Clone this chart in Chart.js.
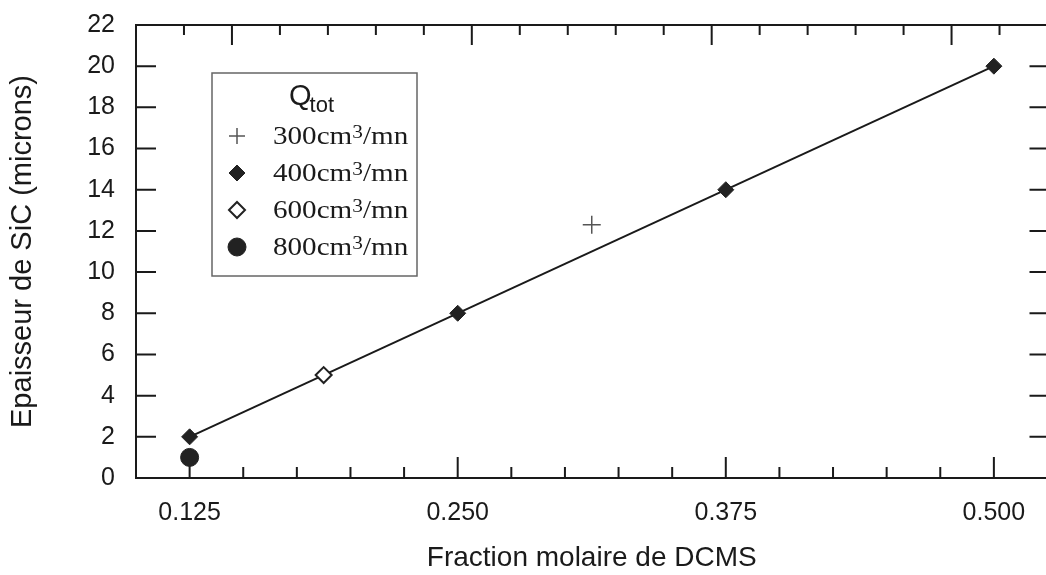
<!DOCTYPE html>
<html><head><meta charset="utf-8">
<script src="https://cdn.jsdelivr.net/npm/chart.js"></script>
<style>
html,body{margin:0;padding:0;background:#fff;overflow:hidden;}
#wrap{position:relative;width:1058px;height:575px;}
canvas{display:block;}
</style></head><body>
<div id="wrap"><canvas id="c" width="1058" height="575" style="width:1058px;height:575px"></canvas></div>
<script>
// ---- data ----
const flowRates = ['300', '400', '600', '800'];       // legend entries: "<rate>cm³/mn"
const x300 = [0.3125];               const y300 = [12.3];
const x400 = [0.125, 0.25, 0.375, 0.5]; const y400 = [2, 8, 14, 20];
const x600 = [0.1875];               const y600 = [5];
const x800 = [0.125];                const y800 = [1];
const fitX = [0.125, 0.5];           const fitY = [2, 20];
const xTickValues = [0.125, 0.25, 0.375, 0.5];
const xMinorTicks = [0.15, 0.175, 0.2, 0.225, 0.275, 0.3, 0.325, 0.35, 0.4, 0.425, 0.45, 0.475];
const yTickValues = [0, 2, 4, 6, 8, 10, 12, 14, 16, 18, 20, 22];
const topMajorTicks = [0, 5, 10, 15];
const topMinorTicks = [-1, 1, 2, 3, 4, 6, 7, 8, 9, 11, 12, 13, 14, 16];
const xTitle = 'Fraction molaire de DCMS';
const yTitle = 'Epaisseur de SiC (microns)';

const pts = (xs, ys) => xs.map((x, i) => ({x: x, y: ys[i]}));
const INK = '#1a1a1a';

function drawMarker(ctx, style, x, y, r, fill, stroke, bw) {
  ctx.save();
  ctx.beginPath();
  if (style === 'cross') {
    ctx.moveTo(x - r, y); ctx.lineTo(x + r, y);
    ctx.moveTo(x, y - r); ctx.lineTo(x, y + r);
    ctx.strokeStyle = stroke; ctx.lineWidth = bw; ctx.stroke();
  } else {
    if (style === 'rectRot') {
      ctx.moveTo(x - r, y); ctx.lineTo(x, y - r); ctx.lineTo(x + r, y); ctx.lineTo(x, y + r); ctx.closePath();
    } else {
      ctx.arc(x, y, r, 0, Math.PI * 2);
    }
    ctx.fillStyle = fill; ctx.fill();
    if (bw > 0) { ctx.strokeStyle = stroke; ctx.lineWidth = bw; ctx.stroke(); }
  }
  ctx.restore();
}

const framePlugin = {
  id: 'frame',
  beforeDatasetsDraw(chart) {
    const ctx = chart.ctx, ca = chart.chartArea;
    const xs = chart.scales.x, ys = chart.scales.y, xt = chart.scales.x2;
    ctx.save();
    ctx.strokeStyle = INK; ctx.lineWidth = 2; ctx.lineCap = 'butt';
    ctx.beginPath();
    ctx.moveTo(ca.left, ca.top); ctx.lineTo(ca.right + 12, ca.top);
    ctx.moveTo(ca.left, ca.top - 1); ctx.lineTo(ca.left, ca.bottom + 1);
    ctx.moveTo(ca.left, ca.bottom); ctx.lineTo(ca.right + 12, ca.bottom);
    ctx.stroke();
    ctx.beginPath();
    yTickValues.forEach(v => {
      const py = ys.getPixelForValue(v);
      ctx.moveTo(ca.left, py); ctx.lineTo(ca.left + 20, py);
      ctx.moveTo(ca.right - 18, py); ctx.lineTo(ca.right + 2, py);
    });
    xTickValues.forEach(v => {
      const px = xs.getPixelForValue(v);
      ctx.moveTo(px, ca.bottom); ctx.lineTo(px, ca.bottom - 21);
    });
    xMinorTicks.forEach(v => {
      const px = xs.getPixelForValue(v);
      ctx.moveTo(px, ca.bottom); ctx.lineTo(px, ca.bottom - 11);
    });
    topMajorTicks.forEach(v => {
      const px = xt.getPixelForValue(v);
      ctx.moveTo(px, ca.top); ctx.lineTo(px, ca.top + 20);
    });
    topMinorTicks.forEach(v => {
      const px = xt.getPixelForValue(v);
      ctx.moveTo(px, ca.top); ctx.lineTo(px, ca.top + 10);
    });
    ctx.stroke();
    ctx.restore();
  }
};

const legendPlugin = {
  id: 'boxLegend',
  afterDraw(chart) {
    const ctx = chart.ctx;
    const bx = 212, by = 73, bw = 205, bh = 203;
    ctx.save();
    ctx.fillStyle = '#fff';
    ctx.fillRect(bx, by, bw, bh);
    ctx.strokeStyle = '#666'; ctx.lineWidth = 1.5;
    ctx.strokeRect(bx, by, bw, bh);
    // title Q_tot
    ctx.fillStyle = INK;
    ctx.textBaseline = 'alphabetic';
    ctx.textAlign = 'left';
    ctx.font = '29px "Liberation Sans", Arial, sans-serif';
    ctx.fillText('Q', 289, 105);
    const qw = ctx.measureText('Q').width;
    ctx.font = '22px "Liberation Sans", Arial, sans-serif';
    ctx.fillText('tot', 289 + qw - 2, 112);
    // entries
    const rows = [136, 173, 210, 247];
    const ds = chart.data.datasets.slice(0, 4);
    const SX = 1.12;
    ds.forEach((d, i) => {
      const y = rows[i];
      drawMarker(ctx, d.pointStyle, 237, y, d.legendRadius, d.pointBackgroundColor, d.pointBorderColor, d.pointBorderWidth);
      ctx.save();
      ctx.translate(273, y + 8);
      ctx.scale(SX, 1);
      ctx.fillStyle = INK;
      ctx.textBaseline = 'alphabetic';
      ctx.font = '26px "Liberation Serif", "Times New Roman", serif';
      let tx = 0;
      const s1 = flowRates[i] + 'cm';
      ctx.fillText(s1, tx, 0); tx += ctx.measureText(s1).width;
      ctx.font = '19px "Liberation Serif", "Times New Roman", serif';
      ctx.fillText('3', tx, -6); tx += ctx.measureText('3').width;
      ctx.font = '26px "Liberation Serif", "Times New Roman", serif';
      ctx.fillText('/mn', tx, 0);
      ctx.restore();
    });
    ctx.restore();
  }
};

const noPad = s => { s.paddingTop = 0; s.paddingBottom = 0; s.paddingLeft = 0; s.paddingRight = 0; };

new Chart(document.getElementById('c'), {
  type: 'scatter',
  data: {
    datasets: [
      { label: '300', data: pts(x300, y300), pointStyle: 'cross', pointRadius: 9, legendRadius: 8,
        pointBackgroundColor: '#555', pointBorderColor: '#555', pointBorderWidth: 1.5, order: 1 },
      { label: '400', data: pts(x400, y400), pointStyle: 'rectRot', pointRadius: 8, legendRadius: 8,
        pointBackgroundColor: '#222', pointBorderColor: '#222', pointBorderWidth: 1, order: 1 },
      { label: '600', data: pts(x600, y600), pointStyle: 'rectRot', pointRadius: 8, legendRadius: 8,
        pointBackgroundColor: '#fff', pointBorderColor: '#222', pointBorderWidth: 2, order: 1 },
      { label: '800', data: pts(x800, y800), pointStyle: 'circle', pointRadius: 9, legendRadius: 9,
        pointBackgroundColor: '#222', pointBorderColor: '#222', pointBorderWidth: 1, order: 1 },
      { type: 'line', label: 'fit', data: pts(fitX, fitY), borderColor: INK, borderWidth: 2,
        pointRadius: 0, fill: false, showLine: true, order: 5 }
    ]
  },
  options: {
    responsive: false,
    maintainAspectRatio: false,
    animation: false,
    devicePixelRatio: 1,
    layout: { padding: { top: 25, right: 0, bottom: 0, left: 0 } },
    plugins: { legend: { display: false }, tooltip: { enabled: false } },
    scales: {
      x: {
        type: 'linear', position: 'bottom', min: 0.1, max: 0.525,
        afterBuildTicks: s => { s.ticks = xTickValues.map(v => ({ value: v })); },
        afterFit: s => { s.height = 97; noPad(s); },
        grid: { display: false, drawTicks: false },
        border: { display: false },
        ticks: { color: INK, padding: 20, font: { family: '"Liberation Sans", Arial, sans-serif', size: 25 },
                 callback: v => Number(v).toFixed(3), maxRotation: 0, autoSkip: false },
        title: { display: true, text: xTitle, color: INK,
                 font: { family: '"Liberation Sans", Arial, sans-serif', size: 28 }, padding: { top: 0, bottom: 0 } }
      },
      x2: {
        type: 'linear', position: 'top', min: -2, max: 17,
        afterFit: s => { s.height = 0; noPad(s); },
        grid: { display: false, drawTicks: false },
        border: { display: false },
        ticks: { display: false }
      },
      y: {
        type: 'linear', position: 'left', min: 0, max: 22,
        afterBuildTicks: s => { s.ticks = yTickValues.map(v => ({ value: v })); },
        afterFit: s => { s.width = 136; noPad(s); },
        grid: { display: false, drawTicks: false },
        border: { display: false },
        ticks: { color: INK, padding: 21, font: { family: '"Liberation Sans", Arial, sans-serif', size: 25 } },
        title: { display: true, text: yTitle, color: INK,
                 font: { family: '"Liberation Sans", Arial, sans-serif', size: 29 }, padding: { top: 6, bottom: 0 } }
      }
    }
  },
  plugins: [framePlugin, legendPlugin]
});
</script>
</body></html>
